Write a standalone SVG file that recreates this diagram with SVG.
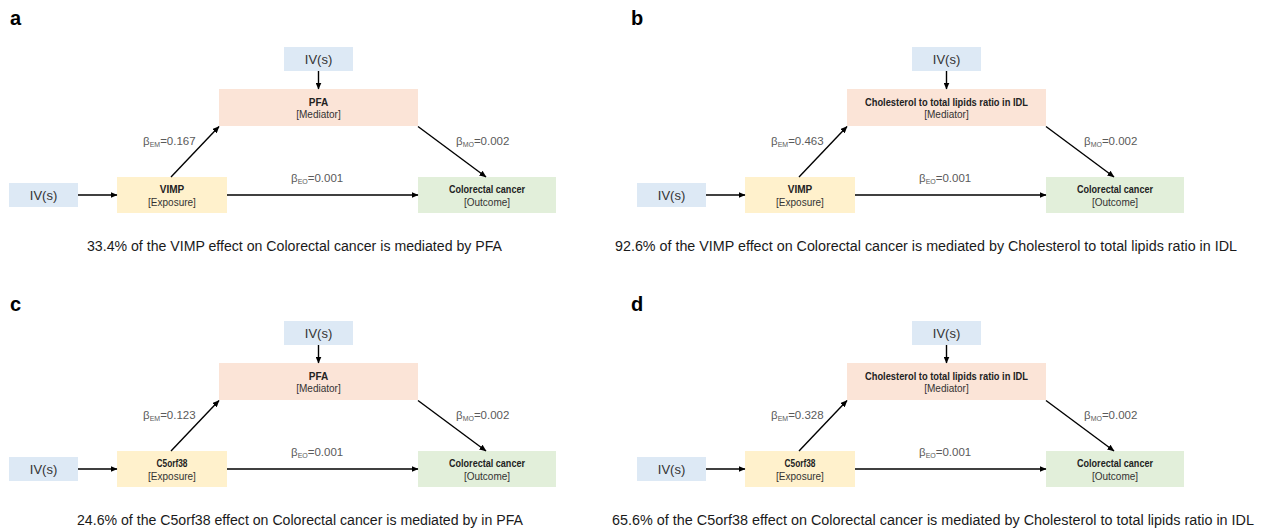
<svg xmlns="http://www.w3.org/2000/svg" width="1263" height="531" viewBox="0 0 1263 531">
<defs>
<marker id="ah" markerUnits="userSpaceOnUse" markerWidth="7" markerHeight="6" refX="6.5" refY="3" orient="auto">
<path d="M0,0 L7,3 L0,6 z" fill="#000"/>
</marker>
<style>
text{font-family:"Liberation Sans",Arial,sans-serif}
.iv{fill:#dde9f5}
.med{fill:#fbe4d7}
.exp{fill:#fff1cc}
.out{fill:#e2efda}
.lab{font-size:13px;fill:#333;text-anchor:middle}
.nb{font-size:10px;font-weight:bold;fill:#222;text-anchor:middle}
.nr{font-size:10px;fill:#333;text-anchor:middle}
.beta{font-size:11.5px;fill:#5a5a5a}
.sub{font-size:7px}
.cap{font-size:14px;fill:#1a1a1a}
.pl{font-size:20px;font-weight:bold;fill:#000}
.conn line{stroke:#000;stroke-width:1.4;marker-end:url(#ah)}
</style>
</defs>
<rect width="1263" height="531" fill="#fff"/>

<!-- Panel a -->
<g id="panel-a">
<text class="pl" x="10" y="25">a</text>
<g>
<g id="a-iv-top"><rect class="iv" x="284" y="47" width="69" height="24"/><text class="lab" x="318.5" y="64">IV(s)</text></g>
<g id="a-mediator"><rect class="med" x="219" y="89" width="199" height="37"/><text class="nb" x="318.5" y="105.5">PFA</text><text class="nr" x="318.5" y="118">[Mediator]</text></g>
<g id="a-iv-left"><rect class="iv" x="9" y="183" width="69" height="24"/><text class="lab" x="43.5" y="200">IV(s)</text></g>
<g id="a-exposure"><rect class="exp" x="117" y="177" width="110" height="36"/><text class="nb" x="172" y="192.5">VIMP</text><text class="nr" x="172" y="205.5">[Exposure]</text></g>
<g id="a-outcome"><rect class="out" x="418" y="177" width="138" height="36"/><text class="nb" x="487" y="192.5" textLength="76" lengthAdjust="spacingAndGlyphs">Colorectal cancer</text><text class="nr" x="487" y="205.5">[Outcome]</text></g>
<g id="a-connectors" class="conn">
<line x1="318.5" y1="71" x2="318.5" y2="89"/>
<line x1="78" y1="195" x2="117" y2="195"/>
<line x1="227" y1="195" x2="418" y2="195"/>
<line x1="171" y1="177" x2="219" y2="126.5"/>
<line x1="418" y1="126.5" x2="486" y2="177"/>
</g>
<text class="beta" x="143" y="145">β<tspan class="sub" dy="2">EM</tspan><tspan dy="-2">=0.167</tspan></text>
<text class="beta" x="456" y="145">β<tspan class="sub" dy="2">MO</tspan><tspan dy="-2">=0.002</tspan></text>
<text class="beta" x="291" y="182">β<tspan class="sub" dy="2">EO</tspan><tspan dy="-2">=0.001</tspan></text>
</g>
<text class="cap" x="87" y="251" textLength="415" lengthAdjust="spacingAndGlyphs">33.4% of the VIMP effect on Colorectal cancer is mediated by PFA</text>
</g>

<!-- Panel b -->
<g id="panel-b">
<text class="pl" x="631" y="25">b</text>
<g transform="translate(628,0)">
<g id="b-iv-top"><rect class="iv" x="284" y="47" width="69" height="24"/><text class="lab" x="318.5" y="64">IV(s)</text></g>
<g id="b-mediator"><rect class="med" x="219" y="89" width="199" height="37"/><text class="nb" x="318.5" y="105.5" textLength="163" lengthAdjust="spacingAndGlyphs">Cholesterol to total lipids ratio in IDL</text><text class="nr" x="318.5" y="118">[Mediator]</text></g>
<g id="b-iv-left"><rect class="iv" x="9" y="183" width="69" height="24"/><text class="lab" x="43.5" y="200">IV(s)</text></g>
<g id="b-exposure"><rect class="exp" x="117" y="177" width="110" height="36"/><text class="nb" x="172" y="192.5">VIMP</text><text class="nr" x="172" y="205.5">[Exposure]</text></g>
<g id="b-outcome"><rect class="out" x="418" y="177" width="138" height="36"/><text class="nb" x="487" y="192.5" textLength="76" lengthAdjust="spacingAndGlyphs">Colorectal cancer</text><text class="nr" x="487" y="205.5">[Outcome]</text></g>
<g id="b-connectors" class="conn">
<line x1="318.5" y1="71" x2="318.5" y2="89"/>
<line x1="78" y1="195" x2="117" y2="195"/>
<line x1="227" y1="195" x2="418" y2="195"/>
<line x1="171" y1="177" x2="219" y2="126.5"/>
<line x1="418" y1="126.5" x2="486" y2="177"/>
</g>
<text class="beta" x="143" y="145">β<tspan class="sub" dy="2">EM</tspan><tspan dy="-2">=0.463</tspan></text>
<text class="beta" x="456" y="145">β<tspan class="sub" dy="2">MO</tspan><tspan dy="-2">=0.002</tspan></text>
<text class="beta" x="291" y="182">β<tspan class="sub" dy="2">EO</tspan><tspan dy="-2">=0.001</tspan></text>
</g>
<text class="cap" x="615" y="251" textLength="622" lengthAdjust="spacingAndGlyphs">92.6% of the VIMP effect on Colorectal cancer is mediated by Cholesterol to total lipids ratio in IDL</text>
</g>

<!-- Panel c -->
<g id="panel-c">
<text class="pl" x="10" y="311">c</text>
<g transform="translate(0,274)">
<g id="c-iv-top"><rect class="iv" x="284" y="47" width="69" height="24"/><text class="lab" x="318.5" y="64">IV(s)</text></g>
<g id="c-mediator"><rect class="med" x="219" y="89" width="199" height="37"/><text class="nb" x="318.5" y="105.5">PFA</text><text class="nr" x="318.5" y="118">[Mediator]</text></g>
<g id="c-iv-left"><rect class="iv" x="9" y="183" width="69" height="24"/><text class="lab" x="43.5" y="200">IV(s)</text></g>
<g id="c-exposure"><rect class="exp" x="117" y="177" width="110" height="36"/><text class="nb" x="172" y="192.5" textLength="31" lengthAdjust="spacingAndGlyphs">C5orf38</text><text class="nr" x="172" y="205.5">[Exposure]</text></g>
<g id="c-outcome"><rect class="out" x="418" y="177" width="138" height="36"/><text class="nb" x="487" y="192.5" textLength="76" lengthAdjust="spacingAndGlyphs">Colorectal cancer</text><text class="nr" x="487" y="205.5">[Outcome]</text></g>
<g id="c-connectors" class="conn">
<line x1="318.5" y1="71" x2="318.5" y2="89"/>
<line x1="78" y1="195" x2="117" y2="195"/>
<line x1="227" y1="195" x2="418" y2="195"/>
<line x1="171" y1="177" x2="219" y2="126.5"/>
<line x1="418" y1="126.5" x2="486" y2="177"/>
</g>
<text class="beta" x="143" y="145">β<tspan class="sub" dy="2">EM</tspan><tspan dy="-2">=0.123</tspan></text>
<text class="beta" x="456" y="145">β<tspan class="sub" dy="2">MO</tspan><tspan dy="-2">=0.002</tspan></text>
<text class="beta" x="291" y="182">β<tspan class="sub" dy="2">EO</tspan><tspan dy="-2">=0.001</tspan></text>
</g>
<text class="cap" x="77" y="525" textLength="446" lengthAdjust="spacingAndGlyphs">24.6% of the C5orf38 effect on Colorectal cancer is mediated by in PFA</text>
</g>

<!-- Panel d -->
<g id="panel-d">
<text class="pl" x="631" y="311">d</text>
<g transform="translate(628,274)">
<g id="d-iv-top"><rect class="iv" x="284" y="47" width="69" height="24"/><text class="lab" x="318.5" y="64">IV(s)</text></g>
<g id="d-mediator"><rect class="med" x="219" y="89" width="199" height="37"/><text class="nb" x="318.5" y="105.5" textLength="163" lengthAdjust="spacingAndGlyphs">Cholesterol to total lipids ratio in IDL</text><text class="nr" x="318.5" y="118">[Mediator]</text></g>
<g id="d-iv-left"><rect class="iv" x="9" y="183" width="69" height="24"/><text class="lab" x="43.5" y="200">IV(s)</text></g>
<g id="d-exposure"><rect class="exp" x="117" y="177" width="110" height="36"/><text class="nb" x="172" y="192.5" textLength="31" lengthAdjust="spacingAndGlyphs">C5orf38</text><text class="nr" x="172" y="205.5">[Exposure]</text></g>
<g id="d-outcome"><rect class="out" x="418" y="177" width="138" height="36"/><text class="nb" x="487" y="192.5" textLength="76" lengthAdjust="spacingAndGlyphs">Colorectal cancer</text><text class="nr" x="487" y="205.5">[Outcome]</text></g>
<g id="d-connectors" class="conn">
<line x1="318.5" y1="71" x2="318.5" y2="89"/>
<line x1="78" y1="195" x2="117" y2="195"/>
<line x1="227" y1="195" x2="418" y2="195"/>
<line x1="171" y1="177" x2="219" y2="126.5"/>
<line x1="418" y1="126.5" x2="486" y2="177"/>
</g>
<text class="beta" x="143" y="145">β<tspan class="sub" dy="2">EM</tspan><tspan dy="-2">=0.328</tspan></text>
<text class="beta" x="456" y="145">β<tspan class="sub" dy="2">MO</tspan><tspan dy="-2">=0.002</tspan></text>
<text class="beta" x="291" y="182">β<tspan class="sub" dy="2">EO</tspan><tspan dy="-2">=0.001</tspan></text>
</g>
<text class="cap" x="612" y="525" textLength="642" lengthAdjust="spacingAndGlyphs">65.6% of the C5orf38 effect on Colorectal cancer is mediated by Cholesterol to total lipids ratio in IDL</text>
</g>
</svg>
